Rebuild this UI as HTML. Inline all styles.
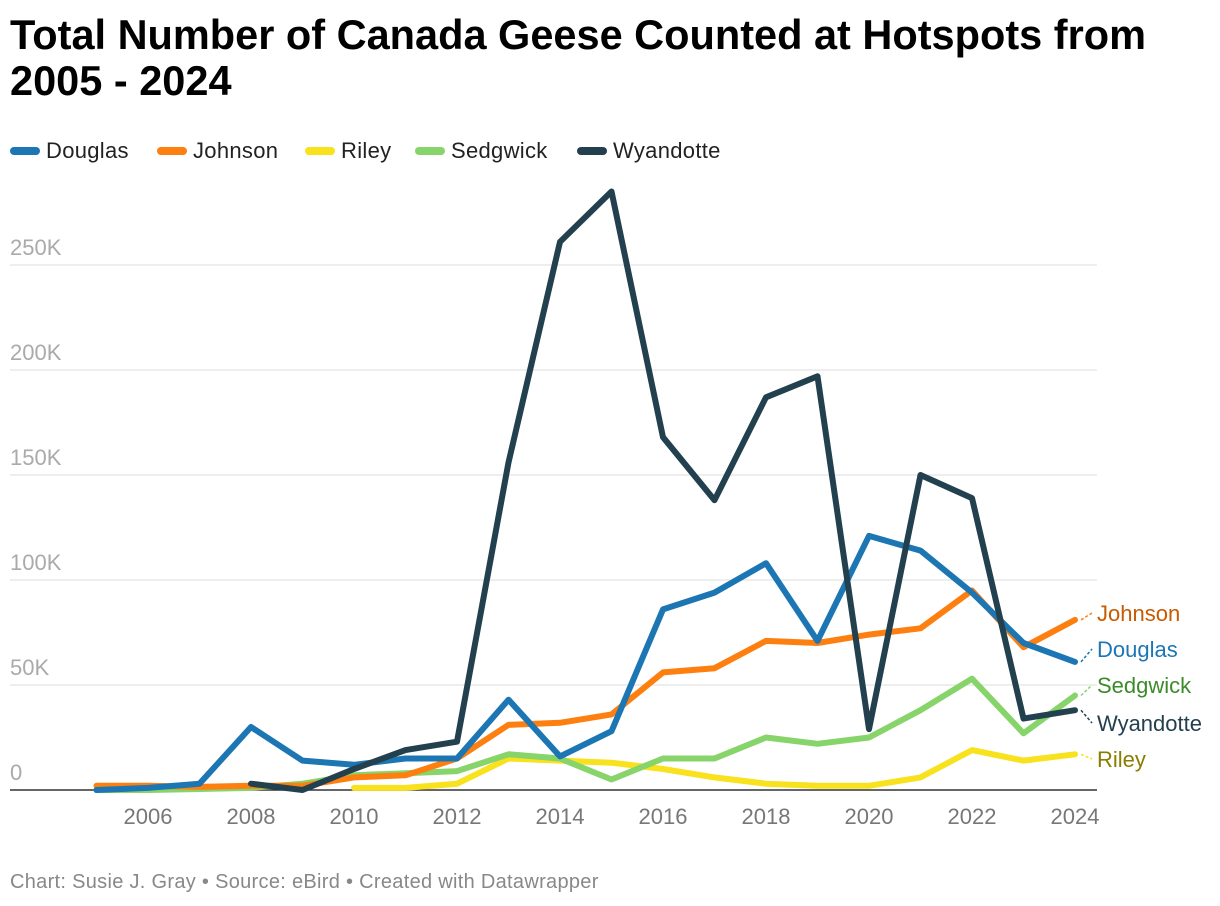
<!DOCTYPE html>
<html><head><meta charset="utf-8"><style>
body{margin:0;background:#fff;font-family:"Liberation Sans",sans-serif;}
#wrap{position:relative;width:1220px;height:906px;overflow:hidden}
h1{position:absolute;left:10px;top:12px;margin:0;font-size:41.5px;line-height:46px;font-weight:bold;color:#000;width:1200px}
.leg{position:absolute;top:138px;font-size:22px;letter-spacing:0.3px;color:#222;display:flex;align-items:center}
.leg i{display:inline-block;width:30px;height:8px;border-radius:4px;margin-right:6px}
.foot{position:absolute;left:10px;top:871px;font-size:20px;letter-spacing:0.3px;color:#888}
</style></head><body><div id="wrap">
<h1>Total Number of Canada Geese Counted at Hotspots from 2005 - 2024</h1>
<div class="leg" style="left:10px"><i style="background:#1d76b4"></i>Douglas</div>
<div class="leg" style="left:157px"><i style="background:#fd7f10"></i>Johnson</div>
<div class="leg" style="left:305px"><i style="background:#f7e21d"></i>Riley</div>
<div class="leg" style="left:415px"><i style="background:#87d46a"></i>Sedgwick</div>
<div class="leg" style="left:577px"><i style="background:#23404f"></i>Wyandotte</div>
<svg id="svg" width="1220" height="906" style="position:absolute;left:0;top:0"></svg>
<div class="foot">Chart: Susie J. Gray • Source: eBird • Created with Datawrapper</div>
</div>
<script>
const years=[2005,2006,2007,2008,2009,2010,2011,2012,2013,2014,2015,2016,2017,2018,2019,2020,2021,2022,2023,2024];
const douglas=[0,1,3,30,14,12,15,15,43,16,28,86,94,108,71,121,114,94,70,61];
const johnson=[2,2,1.5,2,2,6,7,15,31,32,36,56,58,71,70,74,77,95,68,81];
const riley=[null,null,null,null,null,1,1,3,15,14,13,10,6,3,2,2,6,19,14,17];
const sedgwick=[0,0,0.5,1,3,7,8,9,17,15,5,15,15,25,22,25,38,53,27,45];
const wyandotte=[null,null,null,3,0,10,19,23,156,261,285,168,138,187,197,29,150,139,34,38];
const yTicks=[0,50,100,150,200,250];
const xTicks=[2006,2008,2010,2012,2014,2016,2018,2020,2022,2024];
const NS="http://www.w3.org/2000/svg";const svg=document.getElementById('svg');
const x=v=>96.5+(v-2005)*51.5; const y=v=>790-v*2.1;
function mk(t,a){const e=document.createElementNS(NS,t);for(const k in a)e.setAttribute(k,a[k]);svg.appendChild(e);return e;}
yTicks.forEach(v=>{
 const l=mk('line',{x1:10,x2:1097,y1:y(v),y2:y(v),stroke:v===0?'#333':'#ddd','stroke-width':v===0?1.5:1});
 
 
 const t=mk('text',{x:10,y:y(v)-10,'font-size':22,fill:'#aaa'});t.textContent=v===0?'0':v+'K';
 
 
});
xTicks.forEach(v=>{const t=mk('text',{x:x(v),y:824,'font-size':22,fill:'#777','text-anchor':'middle'});t.textContent=v;
 
 });
const series=[['riley',riley,'#f7e21d','#8a7d00','Riley'],['sedgwick',sedgwick,'#87d46a','#3d8a2a','Sedgwick'],['johnson',johnson,'#fd7f10','#c85a00','Johnson'],['douglas',douglas,'#1d76b4','#1d76b4','Douglas'],['wyandotte',wyandotte,'#23404f','#23404f','Wyandotte']];
const labelY={johnson:621,douglas:657,sedgwick:693,wyandotte:731,riley:767};
series.forEach(([n,d,c,lc,name])=>{
 let p='';d.forEach((v,i)=>{if(v===null)return;p+=(p?'L':'M')+x(years[i])+','+y(v);});
 const e=mk('path',{d:p,fill:'none',stroke:c,'stroke-width':6,'stroke-linejoin':'round','stroke-linecap':'round'});
 
 
 const last=d[d.length-1];
 mk('line',{x1:x(2024)+6,y1:y(last),x2:1092,y2:labelY[n]-8,stroke:c,'stroke-width':1.5,'stroke-dasharray':'3,2'});
 const t=mk('text',{x:1097,y:labelY[n],'font-size':22,fill:lc});t.textContent=name;
 
 
});
</script></body></html>
